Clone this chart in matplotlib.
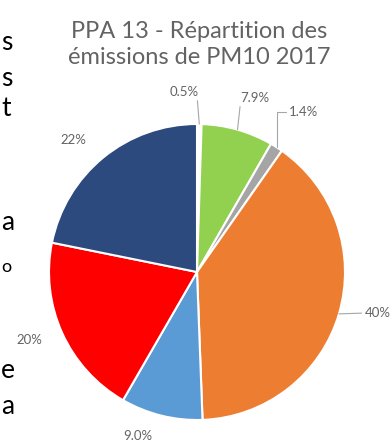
import numpy as np
import matplotlib
matplotlib.use('Agg')
import matplotlib.pyplot as plt

# PM10 emission shares by sector, clockwise from 12 o'clock
labels = ['0.5%', '7.9%', '1.4%', '40%', '9.0%', '20%', '22%']
shares = [0.5, 7.9, 1.4, 40, 9.0, 20, 22]
colors = ['#FFFFFF', '#92D050', '#A5A5A5', '#ED7D31', '#5B9BD5', '#FF0000', '#2C4A7E']

# label placement: radius, angle shift (deg, clockwise) from slice middle,
# and where the leader line leaves the label box (None = no leader)
labelRadius = [1.22, 1.24, 1.30, 1.25, 1.18, 1.22, 1.22]
labelShift = [-5.0, 2.5, 1.0, -3.6, 5.8, 2.1, -3.9]
leaderFrom = [(0.95, 0.0), (0.0, 0.0), (0.0, 0.5), (0.0, 0.5), None, None, None]
leaderStyle = ['arc3', 'arc3', 'angle,angleA=180,angleB=90,rad=0', 'arc3',
               None, None, None]

# stray letters of the surrounding page text
pageLetters = ['s', 's', 't', 'a', 'o', 'e', 'a']
pageLetterY = [42, 79, 109, 223, 267, 370, 407]
pageLetterSize = [19, 19, 19, 19, 13, 19, 19]

textGray = '#636363'
plt.rcParams['font.family'] = ['Lato', 'DejaVu Sans']

fig = plt.figure(figsize=(3.91, 4.42), dpi=100)
W, H = 391.0, 442.0

cx, cy, r = 197.0, 272.0, 148.0
ax = fig.add_axes([(cx - r) / W, (H - cy - r) / H, 2 * r / W, 2 * r / H])
wedges, _ = ax.pie(shares, colors=colors, startangle=90, counterclock=False,
                   wedgeprops=dict(edgecolor='white', linewidth=1.5))
ax.set_xlim(-1, 1)
ax.set_ylim(-1, 1)
ax.set_aspect('equal')
ax.axis('off')

for w, label, lr, shift, rel, style in zip(wedges, labels, labelRadius, labelShift,
                                           leaderFrom, leaderStyle):
    midDeg = (w.theta1 + w.theta2) / 2.0
    mid = np.deg2rad(midDeg)
    pos = np.deg2rad(midDeg - shift)
    tx, ty = lr * np.cos(pos), lr * np.sin(pos)
    if rel is not None:
        ax.annotate(label, xy=(np.cos(mid), np.sin(mid)), xytext=(tx, ty),
                    ha='center', va='center', fontsize=9.5, color=textGray,
                    annotation_clip=False,
                    arrowprops=dict(arrowstyle='-', color='#A6A6A6', lw=0.8,
                                    relpos=rel, connectionstyle=style,
                                    shrinkA=0, shrinkB=0))
    else:
        ax.text(tx, ty, label, ha='center', va='center', fontsize=9.5,
                color=textGray, clip_on=False)

fig.text(199 / W, 1 - 31 / H, 'PPA 13 - Répartition des', ha='center', va='center',
         fontsize=17, color=textGray)
fig.text(199 / W, 1 - 58 / H, 'émissions de PM10 2017', ha='center', va='center',
         fontsize=17, color=textGray)

for ch, y, s in zip(pageLetters, pageLetterY, pageLetterSize):
    fig.text(1 / W, 1 - y / H, ch, ha='left', va='center', fontsize=s, color='black')

fig.savefig('out.png', dpi=100, facecolor='white')
